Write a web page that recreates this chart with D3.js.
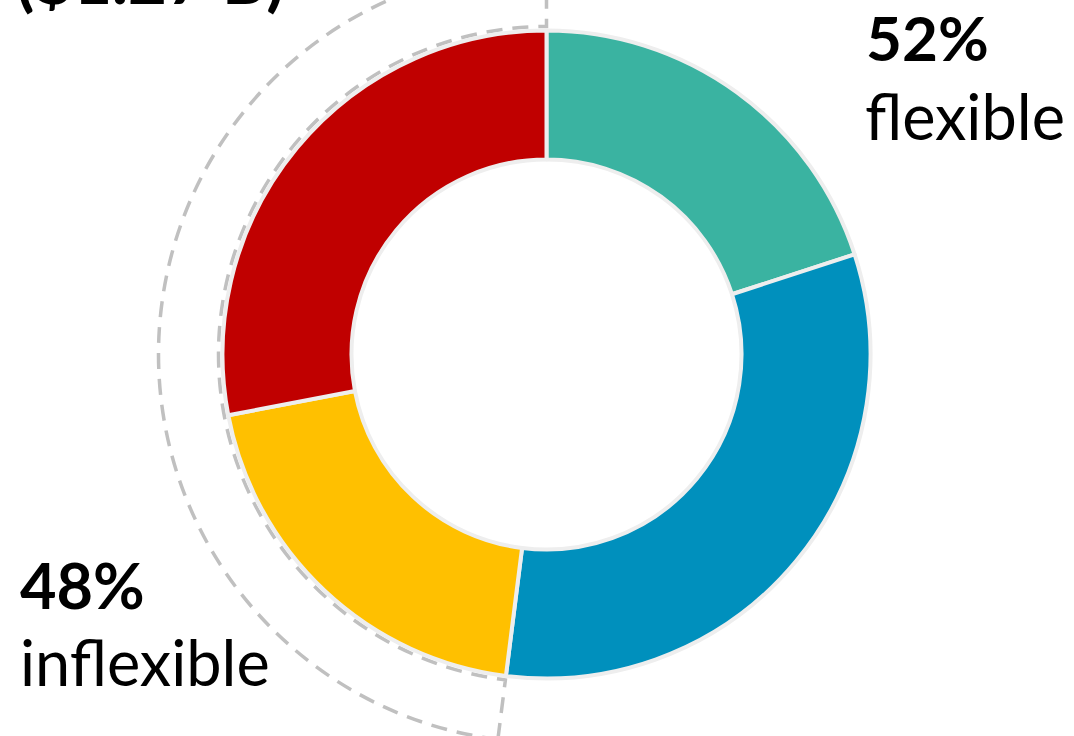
<!DOCTYPE html>
<html>
<head>
<meta charset="utf-8">
<script src="https://cdn.jsdelivr.net/npm/d3@7"></script>
<style>
  html, body { margin: 0; padding: 0; background: #fff; }
  svg { display: block; }
  text { font-family: Lato, "Noto Sans", sans-serif; fill: #000; }
</style>
</head>
<body>
<svg id="chart" width="1074" height="736"></svg>
<script>
// Data
const categories = ["Flexible A", "Flexible B", "Inflexible A", "Inflexible B"];
const values = [20, 32, 20, 28];
const colors = ["#3AB3A1", "#0090BD", "#FFC000", "#C00000"];
const groupLabels = ["52%", "48%"];
const groupNames = ["flexible", "inflexible"];
const topNote = "($1.27 B)";

const svg = d3.select("#chart");
const cx = 546.5, cy = 354.5;
const g = svg.append("g").attr("transform", `translate(${cx},${cy})`);

const pie = d3.pie().sort(null).value(d => d.v);
const arcs = pie(values.map((v, i) => ({ v, c: colors[i], name: categories[i] })));

const arc = d3.arc().innerRadius(195).outerRadius(324);

// inflexible bracket (dashed annular outline)
const inflexStart = arcs[2].startAngle;
const inflexEnd = arcs[3].endAngle;
const bracket = d3.arc().innerRadius(328).outerRadius(388)
  .startAngle(inflexStart).endAngle(inflexEnd);
g.append("path")
  .attr("d", bracket())
  .attr("fill", "none")
  .attr("stroke", "#c0c0c0")
  .attr("stroke-width", 3.5)
  .attr("stroke-dasharray", "16,10");

g.selectAll("path.slice")
  .data(arcs)
  .join("path")
  .attr("class", "slice")
  .attr("d", arc)
  .attr("fill", d => d.data.c)
  .attr("stroke", "#eeeeee")
  .attr("stroke-width", 4)
  .attr("stroke-linejoin", "round");

// Labels
svg.append("text").attr("x", 866).attr("y", 61)
  .attr("font-size", 62).attr("font-weight", 700).text(groupLabels[0]);
svg.append("text").attr("x", 865).attr("y", 140)
  .attr("font-size", 63).attr("font-weight", 400).text(groupNames[0]);

svg.append("text").attr("x", 20).attr("y", 609)
  .attr("font-size", 63).attr("font-weight", 700).text(groupLabels[1]);
svg.append("text").attr("x", 20).attr("y", 686)
  .attr("font-size", 63).attr("font-weight", 400).text(groupNames[1]);

svg.append("text").attr("x", 16).attr("y", 4)
  .attr("font-size", 67).attr("font-weight", 700).text(topNote);
</script>
</body>
</html>
